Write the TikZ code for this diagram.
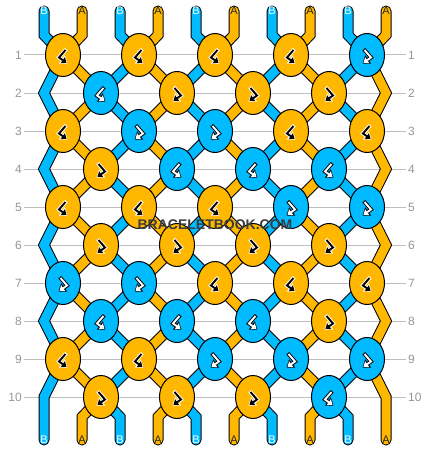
\documentclass[tikz,border=0pt]{standalone}
\usepackage{fontspec}
\setmainfont{Liberation Sans}
\usetikzlibrary{shapes.geometric, arrows.meta, backgrounds}
\definecolor{orng}{RGB}{255,183,0}
\definecolor{blu}{RGB}{0,187,255}
\definecolor{rowgray}{RGB}{190,190,190}
\definecolor{numgray}{RGB}{150,150,150}
\definecolor{wmgray}{RGB}{60,60,60}
\tikzset{
  pics/hookl/.style n args={2}{code={
    \draw[line width=3.8pt, #1, line join=miter, shorten <=-1pt, -{Triangle[length=7pt,width=10pt]}] (2.5,-5) -- (-4,2.5) -- (4.5,8.5);
    \draw[line width=1.9pt, #2, line join=miter, shorten >=1.2pt, -{Triangle[length=4.6pt,width=7pt]}] (2.5,-5) -- (-4,2.5) -- (4.5,8.5);
  }},
  pics/hookr/.style n args={2}{code={
    \draw[line width=3.8pt, #1, line join=miter, shorten <=-1pt, -{Triangle[length=7pt,width=10pt]}] (-2.5,-5) -- (4,2.5) -- (-4.5,8.5);
    \draw[line width=1.9pt, #2, line join=miter, shorten >=1.2pt, -{Triangle[length=4.6pt,width=7pt]}] (-2.5,-5) -- (4,2.5) -- (-4.5,8.5);
  }},
  knot/.style={draw, ellipse, line width=1pt, minimum width=35pt, minimum height=43pt, inner sep=0pt},
  oB/.style={knot, fill=orng, path picture={\pic at (path picture bounding box.center) {hookl={white}{black}};}},
  oF/.style={knot, fill=orng, path picture={\pic at (path picture bounding box.center) {hookr={white}{black}};}},
  bB/.style={knot, fill=blu, path picture={\pic at (path picture bounding box.center) {hookl={black}{white}};}},
  bF/.style={knot, fill=blu, path picture={\pic at (path picture bounding box.center) {hookr={black}{white}};}}
}
\begin{document}
\begin{tikzpicture}[x=1pt, y=-1pt,
    rownum/.style={text=numgray, font=\fontsize{12}{12}\selectfont, inner sep=2pt},
    rowline/.style={draw=rowgray, line width=1pt},
    endlab/.style={font=\fontsize{11}{11}\selectfont, inner sep=1pt},
    wmark/.style={font=\fontsize{14}{14}\selectfont\bfseries, inner sep=0pt},
    strand/.style={line width=9pt, line cap=round, line join=miter,
      preaction={draw=black, line width=11pt, line cap=round, line join=miter}}]
  \useasboundingbox (0,0) rectangle (430,452);

  \foreach \r in {1,...,10}{
    \node[rownum, anchor=east] (l-\r) at (24,17+38*\r) {\r};
    \node[rownum, anchor=west] (r-\r) at (406,17+38*\r) {\r};
  }

  \node[oB] (k-1-1) at (63,55) {};
  \node[oB] (k-1-2) at (139,55) {};
  \node[oB] (k-1-3) at (215,55) {};
  \node[oB] (k-1-4) at (291,55) {};
  \node[bF] (k-1-5) at (367,55) {};

  \node[bB] (k-2-1) at (101,93) {};
  \node[oF] (k-2-2) at (177,93) {};
  \node[oF] (k-2-3) at (253,93) {};
  \node[oF] (k-2-4) at (329,93) {};

  \node[oB] (k-3-1) at (63,131) {};
  \node[bF] (k-3-2) at (139,131) {};
  \node[bF] (k-3-3) at (215,131) {};
  \node[oB] (k-3-4) at (291,131) {};
  \node[oB] (k-3-5) at (367,131) {};

  \node[oF] (k-4-1) at (101,169) {};
  \node[bB] (k-4-2) at (177,169) {};
  \node[bB] (k-4-3) at (253,169) {};
  \node[bB] (k-4-4) at (329,169) {};

  \node[oB] (k-5-1) at (63,207) {};
  \node[oB] (k-5-2) at (139,207) {};
  \node[oB] (k-5-3) at (215,207) {};
  \node[bF] (k-5-4) at (291,207) {};
  \node[bF] (k-5-5) at (367,207) {};

  \node[oF] (k-6-1) at (101,245) {};
  \node[oF] (k-6-2) at (177,245) {};
  \node[oF] (k-6-3) at (253,245) {};
  \node[oF] (k-6-4) at (329,245) {};

  \node[bF] (k-7-1) at (63,283) {};
  \node[bF] (k-7-2) at (139,283) {};
  \node[oB] (k-7-3) at (215,283) {};
  \node[oB] (k-7-4) at (291,283) {};
  \node[oB] (k-7-5) at (367,283) {};

  \node[bB] (k-8-1) at (101,321) {};
  \node[bB] (k-8-2) at (177,321) {};
  \node[bB] (k-8-3) at (253,321) {};
  \node[oF] (k-8-4) at (329,321) {};

  \node[oB] (k-9-1) at (63,359) {};
  \node[oB] (k-9-2) at (139,359) {};
  \node[bF] (k-9-3) at (215,359) {};
  \node[bF] (k-9-4) at (291,359) {};
  \node[bF] (k-9-5) at (367,359) {};

  \node[oF] (k-10-1) at (101,397) {};
  \node[oF] (k-10-2) at (177,397) {};
  \node[oF] (k-10-3) at (253,397) {};
  \node[bB] (k-10-4) at (329,397) {};

  \foreach \r in {2,4,...,10}{
    \coordinate (k-\r-0) at (44,17+38*\r);
    \coordinate (k-\r-5) at (386,17+38*\r);
  }

  \foreach \i in {0,...,9}{
    \ifodd\i \def\lt{A}\def\lc{black!85}\else \def\lt{B}\def\lc{white}\fi
    \node[endlab, text=\lc] (tl-\i) at (44+38*\i,11) {\lt};
    \node[endlab, text=\lc] (bl-\i) at (44+38*\i,440) {\lt};
    \coordinate (tb-\i) at (44+38*\i,35);
    \coordinate (bb-\i) at (44+38*\i,417);
  }

  \begin{pgfonlayer}{background}
    \foreach \r in {1,...,10}
      \draw[rowline] (l-\r) -- (r-\r);
    \foreach \i in {0,...,9}{
      \pgfmathtruncatemacro\a{floor(\i/2)+1}
      \pgfmathtruncatemacro\b{floor((\i+1)/2)}
      \ifodd\i \def\tc{orng}\else \def\tc{blu}\fi
      \draw[strand, draw=\tc] (tl-\i.center) -- (tb-\i) -- (k-1-\a.center) -- (k-2-\b.center)
        -- (k-3-\a.center) -- (k-4-\b.center) -- (k-5-\a.center) -- (k-6-\b.center)
        -- (k-7-\a.center) -- (k-8-\b.center) -- (k-9-\a.center) -- (k-10-\b.center)
        -- (bb-\i) -- (bl-\i.center);
    }
  \end{pgfonlayer}

  \node[wmark, text=wmgray] (wm) at (215,225) {BRACELETBOOK.COM};
\end{tikzpicture}
\end{document}
